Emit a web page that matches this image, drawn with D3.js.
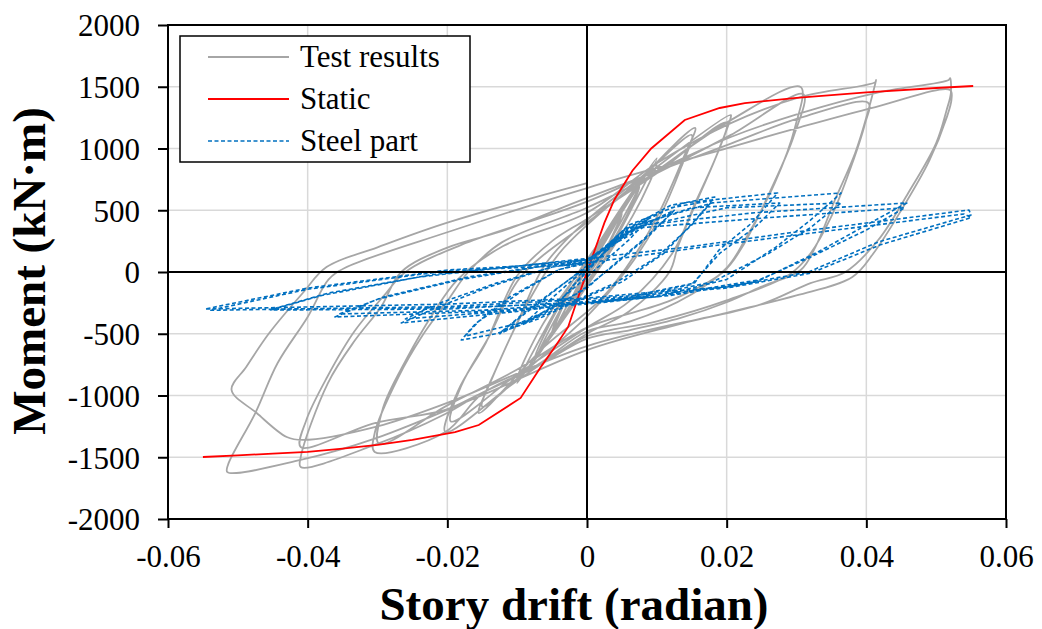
<!DOCTYPE html>
<html>
<head>
<meta charset="utf-8">
<script src="https://cdn.jsdelivr.net/npm/d3@7"></script>
<style>
  body { margin: 0; background: #fff; }
  svg text { font-family: "Liberation Serif", "Times New Roman", serif; fill: #000; }
</style>
</head>
<body>
<svg id="chart" width="1042" height="629" viewBox="0 0 1042 629"></svg>
<script>
// axis ticks
const xTicks = [-0.06, -0.04, -0.02, 0, 0.02, 0.04, 0.06];
const yTicks = [-2000, -1500, -1000, -500, 0, 500, 1000, 1500, 2000];

// static analysis curve
const staticDrift = [-0.055, -0.050, -0.045, -0.040, -0.035, -0.030, -0.025, -0.0189, -0.0155, -0.0095, -0.0065, -0.0045, -0.0027, -0.001, 0, 0.001, 0.0025, 0.0039, 0.0065, 0.0092, 0.014, 0.019, 0.0226, 0.030, 0.040, 0.050, 0.0553];
const staticMoment = [-1498, -1485, -1470, -1457, -1430, -1400, -1360, -1296, -1239, -1020, -760, -600, -445, -160, 0, 160, 400, 583, 820, 1000, 1231, 1328, 1368, 1410, 1455, 1490, 1506];

const testSmall = [[0,0],[0.0025,250],[0.001,70],[-0.0025,-270],[-0.001,-70],[0.0025,240],[0.0005,30],[-0.0025,-260],[-0.0005,-20],
  [0.005,480],[0.0025,170],[-0.002,-190],[-0.005,-500],[-0.0025,-170],[0.002,190],[0.005,470],[0.0025,150],[-0.005,-490],[-0.0025,-150],[0,40],
  [0.0075,700],[0.005,420],[0,-50],[-0.0075,-720],[-0.005,-430],[0,70],[0.0075,690],[0.0045,330],[-0.0075,-700],[-0.0045,-330],[0,60],
  [0.01,920],[0.007,580],[0.002,60],[-0.004,-400],[-0.01,-900],[-0.007,-570],[-0.002,-70],[0.004,420],[0.01,890],[0.0065,450],[-0.01,-870],[-0.0065,-440],[0,90]];
const test015 = [[0.008,760],[0.0155,1166],[0.014,950],[0.0105,500],[0.007,150],[0.002,-220],[-0.006,-600],[-0.0155,-1142],[-0.0135,-850],[-0.0095,-350],[-0.006,60],[0,420],
  [0.008,780],[0.015,1110],[0.0135,850],[0.01,400],[0.006,40],[0,-360],[-0.008,-760],[-0.015,-1090],[-0.0125,-720],[-0.008,-200],[-0.004,150],[0,380]];
const test02 = [[0.01,850],[0.0206,1271],[0.0206,1255],[0.0183,907],[0.0158,583],[0.013,202],[0.0118,0],[0.006,-320],[0,-500],[-0.01,-880],[-0.0203,-1296],[-0.0184,-955],[-0.0145,-575],[-0.01,-30],[-0.005,250],[0,430],
  [0.01,800],[0.02,1210],[0.0188,980],[0.0155,560],[0.0122,150],[0.006,-240],[0,-450],[-0.01,-830],[-0.0195,-1210],[-0.018,-920],[-0.014,-520],[-0.0095,-40],[0,400]];
const test03 = [[0.01,820],[0.0206,1230],[0.0306,1498],[0.0298,1174],[0.0269,721],[0.0226,259],[0.0201,40],[0.015,-180],[0.0062,-400],[0,-480],[-0.0073,-760],[-0.0151,-990],[-0.0203,-1296],[-0.0304,-1457],[-0.0304,-1304],[-0.027,-850],[-0.0237,-526],[-0.0199,-227],[-0.017,0],[-0.0122,240],[0,520],
  [0.01,800],[0.0206,1110],[0.031,1440],[0.0296,1100],[0.0262,650],[0.0222,200],[0.0195,0],[0.012,-230],[0,-450],[-0.01,-790],[-0.02,-1080],[-0.0298,-1390],[-0.0292,-1100],[-0.0258,-700],[-0.0222,-350],[-0.0185,-60],[-0.012,210],[0,480]];
const test04 = [[0.01,880],[0.0206,1206],[0.0306,1417],[0.0413,1538],[0.0414,1555],[0.0413,1530],[0.0403,1312],[0.0384,964],[0.0355,583],[0.0327,202],[0.0306,16],[0.0249,-121],[0.0201,-243],[0.0134,-372],[0.0062,-470],[0,-540],[-0.0073,-769],[-0.0151,-980],[-0.0203,-1150],[-0.0304,-1400],[-0.041,-1579],[-0.041,-1500],[-0.0371,-899],[-0.0332,-551],[-0.0295,-283],[-0.0266,0],[-0.0199,200],[-0.0122,330],[0,600],
  [0.0206,1040],[0.0306,1250],[0.0403,1368],[0.0398,1200],[0.0378,850],[0.035,450],[0.032,150],[0.029,-20],[0.02,-230],[0.01,-400],[0,-520],[-0.0073,-769],[-0.0151,-980],[-0.0203,-1117],[-0.0304,-1223],[-0.041,-1417],[-0.0402,-1200],[-0.0372,-850],[-0.0333,-480],[-0.0292,-200],[-0.026,0],[-0.018,220],[0,570]];
const test05 = [[0.0206,1093],[0.0306,1287],[0.0413,1449],[0.0518,1555],[0.052,1570],[0.0521,1447],[0.0515,1312],[0.05,1044],[0.046,640],[0.0417,259],[0.037,0],[0.032,-90],[0.025,-260],[0.0134,-420],[0,-632],[-0.0151,-1000],[-0.0304,-1350],[-0.041,-1522],[-0.0515,-1620],[-0.0514,-1560],[-0.0475,-1142],[-0.0443,-737],[-0.040,-364],[-0.037,-60],[-0.0347,32],[-0.0199,324],[0,680],
  [0.0206,1012],[0.0306,1174],[0.0413,1336],[0.052,1474],[0.0522,1400],[0.0515,1250],[0.049,900],[0.045,500],[0.041,150],[0.038,-40],[0.03,-190],[0.02,-330],[0,-600],[-0.02,-1060],[-0.03,-1250],[-0.0407,-1360],[-0.043,-1336],[-0.0473,-1142],[-0.0509,-955],[-0.0488,-769],[-0.0455,-494],[-0.0407,-170],[-0.0373,40],[-0.03,200],[-0.02,400],[0,720]];

// steel part, [drift, moment]
const steelSmall = [[0,0],[0.003,200],[0.0045,290],[0.002,120],[0,20],[-0.003,-180],[-0.0045,-280],[-0.002,-110],[0,0],
  [0.004,250],[0.0088,430],[0.006,260],[0.002,60],[0,-40],[-0.005,-280],[-0.009,-420],[-0.006,-260],[-0.002,-60],[0,20],
  [0.005,300],[0.0125,500],[0.009,300],[0.004,60],[0,-120],[-0.006,-330],[-0.0125,-500],[-0.009,-330],[-0.004,-120],[0,40],
  [0.006,320],[0.0122,480],[0.008,260],[0.003,20],[0,-130],[-0.006,-320],[-0.0122,-480],[-0.008,-300],[-0.003,-80],[0,50]];
const steel02 = [[0.005,330],[0.012,540],[0.0183,607],[0.0155,420],[0.011,150],[0.005,-80],[0,-200],[-0.007,-380],[-0.013,-500],[-0.018,-551],[-0.016,-420],[-0.011,-200],[-0.004,20],[0,80],
  [0.006,350],[0.012,520],[0.018,580],[0.015,380],[0.010,120],[0.004,-90],[0,-190],[-0.008,-390],[-0.0175,-520],[-0.0155,-400],[-0.010,-180],[-0.004,20],[0,70]];
const steel03 = [[0.006,380],[0.014,560],[0.0273,640],[0.0236,397],[0.0189,178],[0.0154,-89],[0.006,-200],[0,-240],[-0.01,-320],[-0.0266,-413],[-0.022,-300],[-0.014,-120],[-0.005,40],[0,90],
  [0.006,360],[0.015,520],[0.0276,559],[0.024,360],[0.019,150],[0.015,-100],[0.006,-210],[0,-250],[-0.01,-310],[-0.026,-380],[-0.022,-270],[-0.013,-90],[-0.005,40],[0,80]];
const steel04 = [[0.007,380],[0.018,560],[0.0364,640],[0.032,420],[0.027,200],[0.02,-60],[0.01,-200],[0,-260],[-0.015,-320],[-0.0361,-364],[-0.03,-220],[-0.018,-60],[-0.006,50],[0,100],
  [0.007,360],[0.02,520],[0.0364,559],[0.032,360],[0.026,150],[0.018,-80],[0.008,-200],[0,-250],[-0.015,-310],[-0.0355,-340],[-0.029,-200],[-0.017,-40],[-0.005,60],[0,100]];
const steel05 = [[0.008,380],[0.024,480],[0.0458,559],[0.04,380],[0.033,160],[0.025,-60],[0.012,-180],[0,-240],[-0.02,-300],[-0.0453,-308],[-0.038,-190],[-0.024,-40],[-0.008,60],[0,100],
  [0.008,360],[0.026,440],[0.0455,520],[0.04,340],[0.032,120],[0.024,-80],[0.012,-190],[0,-250],[-0.02,-290],[-0.045,-300],[-0.037,-170],[-0.022,-20],[-0.008,60],[0,110]];
const steel06 = [[0.0144,202],[0.0288,316],[0.0547,502],[0.055,462],[0.0417,243],[0.0317,0],[0.0201,-121],[0.0096,-162],[0,-211],[-0.02,-260],[-0.0547,-300],[-0.04,-130],[-0.0199,16],[-0.0073,57],[0,73],
  [0.015,190],[0.03,300],[0.054,470],[0.055,440],[0.042,220],[0.032,-10],[0.02,-130],[0,-220],[-0.02,-280],[-0.054,-310],[-0.04,-140],[-0.02,10],[0,60]];

const svg = d3.select("#chart");
const plotLeft = 168, plotRight = 1006, plotTop = 25, plotBottom = 519;

const x = d3.scaleLinear().domain([-0.06, 0.06]).range([plotLeft, plotRight]);
const y = d3.scaleLinear().domain([-2000, 2000]).range([plotBottom, plotTop]);

const fmtX = d => d === 0 ? "0" : (d < 0 ? "-" : "") + Math.abs(d).toFixed(2);
const fmtY = d => (d < 0 ? "-" : "") + Math.abs(d);

// gridlines
const grid = svg.append("g");
grid.selectAll(".gx").data(xTicks.slice(1, -1)).enter().append("line")
  .attr("x1", d => x(d)).attr("x2", d => x(d)).attr("y1", plotTop).attr("y2", plotBottom)
  .attr("stroke", "#d9d9d9").attr("stroke-width", 1.5);
grid.selectAll(".gy").data(yTicks.slice(1, -1)).enter().append("line")
  .attr("x1", plotLeft).attr("x2", plotRight).attr("y1", d => y(d)).attr("y2", d => y(d))
  .attr("stroke", "#d9d9d9").attr("stroke-width", 1.5);

const line = d3.line().x(d => x(d[0])).y(d => y(d[1]));
const smoothLine = d3.line().x(d => x(d[0])).y(d => y(d[1])).curve(d3.curveCatmullRom.alpha(0.5));

// test results
const testPath = [].concat(testSmall, test015, test02, test03, test04, test05);
svg.append("path").datum(testPath).attr("d", smoothLine)
  .attr("fill", "none").attr("stroke", "#a6a6a6").attr("stroke-width", 1.8).attr("stroke-linejoin", "round");

// static
const staticPts = staticDrift.map((d, i) => [d, staticMoment[i]]);
svg.append("path").datum(staticPts).attr("d", line)
  .attr("fill", "none").attr("stroke", "#ff0000").attr("stroke-width", 1.8);

// steel part
const steelPath = [].concat(steelSmall, steel02, steel03, steel04, steel05, steel06);
svg.append("path").datum(steelPath).attr("d", line)
  .attr("fill", "none").attr("stroke", "#0070c0").attr("stroke-width", 1.6)
  .attr("stroke-dasharray", "4,2.5").attr("stroke-linejoin", "round");

// zero lines
svg.append("line").attr("x1", x(0)).attr("x2", x(0)).attr("y1", plotTop).attr("y2", plotBottom)
  .attr("stroke", "#000").attr("stroke-width", 2);
svg.append("line").attr("x1", plotLeft).attr("x2", plotRight).attr("y1", y(0)).attr("y2", y(0))
  .attr("stroke", "#000").attr("stroke-width", 2);

// plot border
svg.append("rect").attr("x", plotLeft).attr("y", plotTop).attr("width", plotRight - plotLeft).attr("height", plotBottom - plotTop)
  .attr("fill", "none").attr("stroke", "#000").attr("stroke-width", 2);

// axes
const xAxis = svg.append("g").attr("transform", `translate(0,${plotBottom})`)
  .call(d3.axisBottom(x).tickValues(xTicks).tickFormat(fmtX).tickSize(9).tickPadding(18));
const yAxis = svg.append("g").attr("transform", `translate(${plotLeft},0)`)
  .call(d3.axisLeft(y).tickValues(yTicks).tickFormat(fmtY).tickSize(10).tickPadding(18));
[xAxis, yAxis].forEach(a => {
  a.select(".domain").remove();
  a.selectAll(".tick line").attr("stroke", "#000").attr("stroke-width", 2);
  a.selectAll("text").attr("font-size", 31).attr("font-family", "Liberation Serif, Times New Roman, serif");
});
yAxis.selectAll("text").attr("x", -28).attr("dy", "0.35em");
xAxis.selectAll("text").attr("y", 48).attr("dy", 0);

// axis titles
svg.append("text").attr("x", 574).attr("y", 620).attr("text-anchor", "middle")
  .attr("font-size", 47).attr("font-weight", "bold").text("Story drift (radian)");
svg.append("text").attr("transform", "translate(45,271) rotate(-90)").attr("text-anchor", "middle")
  .attr("font-size", 47).attr("font-weight", "bold").text("Moment (kN·m)");

// legend
const legendItems = [
  { label: "Test results", color: "#a6a6a6", dash: null },
  { label: "Static", color: "#ff0000", dash: null },
  { label: "Steel part", color: "#0070c0", dash: "4,2.5" }
];
const legend = svg.append("g");
legend.append("rect").attr("x", 180).attr("y", 36).attr("width", 290).attr("height", 126)
  .attr("fill", "#fff").attr("stroke", "#000").attr("stroke-width", 1.5);
const li = legend.selectAll(".li").data(legendItems).enter().append("g")
  .attr("transform", (d, i) => `translate(0,${57 + i * 42})`);
li.append("line").attr("x1", 208).attr("x2", 289).attr("y1", 0).attr("y2", 0)
  .attr("stroke", d => d.color).attr("stroke-width", d => d.dash ? 1.6 : 1.8)
  .attr("stroke-dasharray", d => d.dash);
li.append("text").attr("x", 300).attr("y", 10).attr("font-size", 31).text(d => d.label);
</script>
</body>
</html>
